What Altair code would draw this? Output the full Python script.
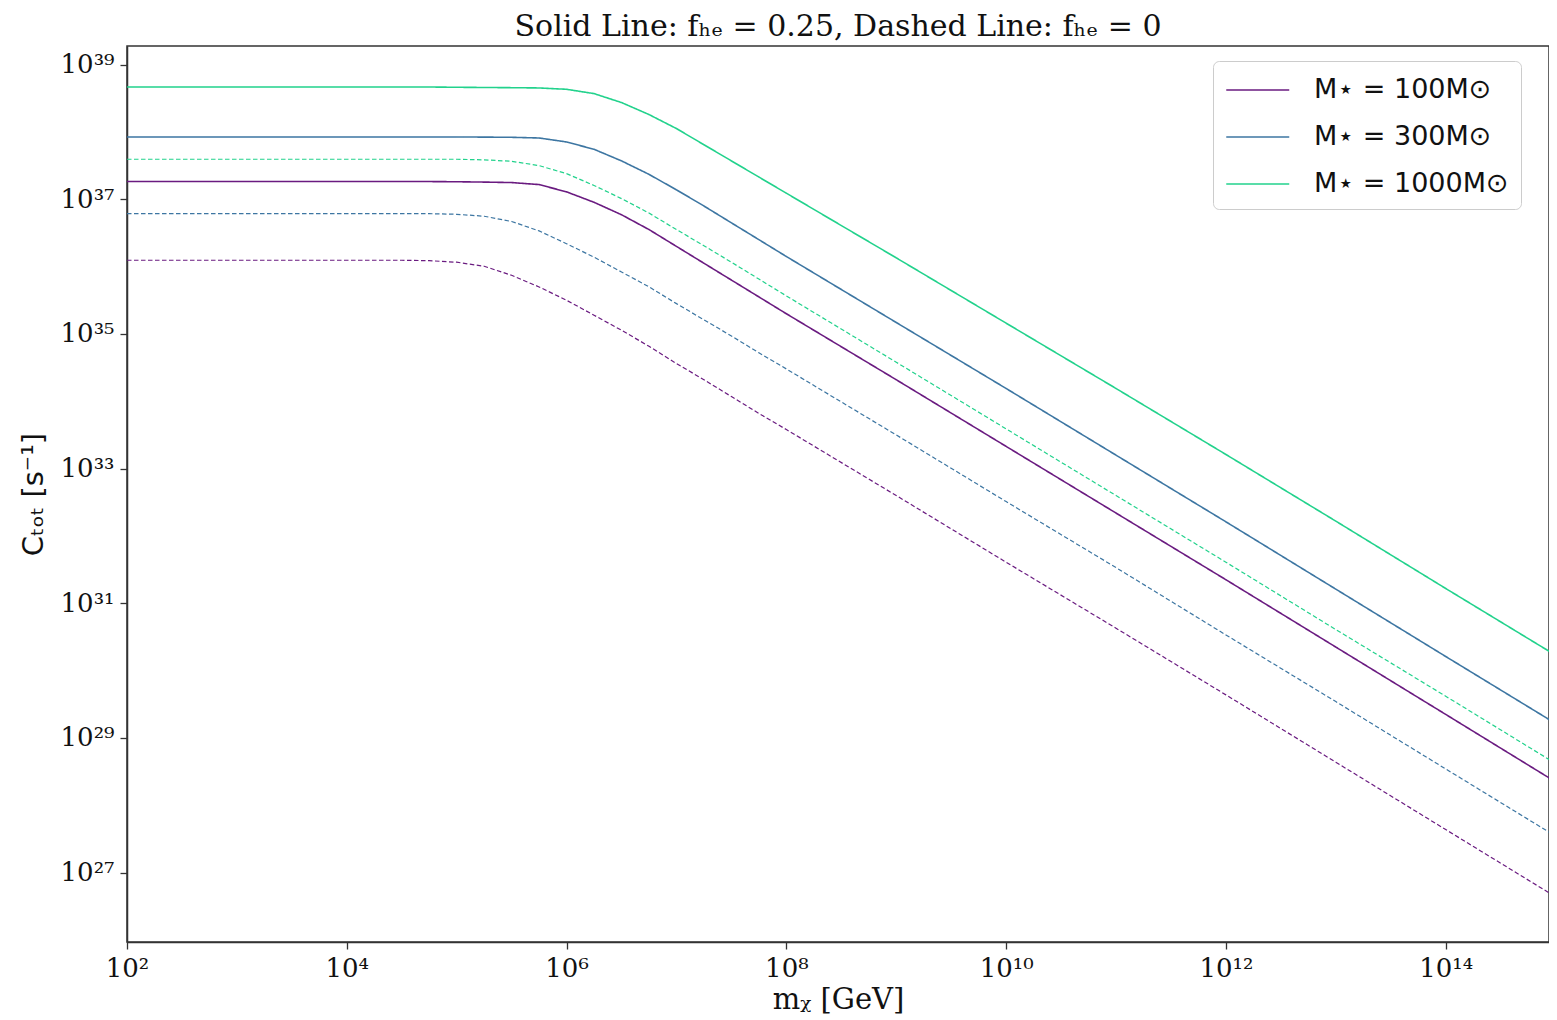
import altair as alt
import pandas as pd

# log10 of dark-matter mass m_X [GeV] at which curves were read
LOG_M = [2, 3, 4, 4.5, 4.75, 5, 5.25, 5.5, 5.75, 6, 6.25, 6.5, 6.75, 7, 7.25, 7.5, 7.75,
         8, 9, 10, 11, 12, 13, 14, 15]

# log10 of C_tot [s^-1]
S100 = [37.263, 37.263, 37.263, 37.263, 37.263, 37.260, 37.255, 37.248, 37.218, 37.11,
        36.955, 36.77, 36.55, 36.30, 36.05, 35.80, 35.55, 35.30, 34.32, 33.33, 32.34,
        31.35, 30.35, 29.35, 28.348]
S300 = [37.925, 37.925, 37.925, 37.925, 37.925, 37.925, 37.923, 37.920, 37.910, 37.851,
        37.742, 37.57, 37.37, 37.14, 36.90, 36.65, 36.40, 36.15, 35.17, 34.19, 33.20,
        32.21, 31.21, 30.21, 29.215]
S1000 = [38.667, 38.667, 38.667, 38.667, 38.667, 38.663, 38.660, 38.657, 38.653, 38.633,
         38.569, 38.436, 38.258, 38.050, 37.81, 37.57, 37.33, 37.09, 36.13, 35.16, 34.19,
         33.21, 32.22, 31.22, 30.229]
D100 = [36.094, 36.094, 36.094, 36.094, 36.088, 36.065, 36.005, 35.871, 35.698, 35.500,
        35.278, 35.055, 34.817, 34.560, 34.32, 34.07, 33.82, 33.58, 32.60, 31.61, 30.63,
        29.64, 28.64, 27.64, 26.641]
D300 = [36.788, 36.788, 36.788, 36.788, 36.786, 36.777, 36.748, 36.67, 36.53, 36.34,
        36.14, 35.92, 35.70, 35.45, 35.21, 34.97, 34.72, 34.48, 33.50, 32.51, 31.53,
        30.53, 29.54, 28.54, 27.542]
D1000 = [37.594, 37.594, 37.594, 37.594, 37.594, 37.594, 37.585, 37.564, 37.50, 37.38,
         37.205, 37.010, 36.795, 36.55, 36.31, 36.065, 35.815, 35.565, 34.58, 33.59,
         32.60, 31.61, 30.61, 29.62, 28.621]

MASS_LABELS = ["M⋆ = 100M⊙", "M⋆ = 300M⊙", "M⋆ = 1000M⊙"]
COLORS = ["#6a1b80", "#3d76a2", "#22d28c"]
FHE = ["0.25", "0"]

X_TICKS = [2, 4, 6, 8, 10, 12, 14]
Y_TICKS = [27, 29, 31, 33, 35, 37, 39]

series = [
    (MASS_LABELS[0], "0.25", S100), (MASS_LABELS[1], "0.25", S300), (MASS_LABELS[2], "0.25", S1000),
    (MASS_LABELS[0], "0", D100), (MASS_LABELS[1], "0", D300), (MASS_LABELS[2], "0", D1000),
]
rows = []
for mass, fhe, vals in series:
    for i, (lm, lc) in enumerate(zip(LOG_M, vals)):
        rows.append({"mass": mass, "fHe": fhe, "m": 10.0 ** lm, "C": 10.0 ** lc, "i": i})
df = pd.DataFrame(rows)

SUP = str.maketrans("0123456789-", "⁰¹²³⁴⁵⁶⁷⁸⁹⁻")


def label_expr(exps):
    expr = "''"
    for e in reversed(exps):
        expr = f"(abs(log(datum.value)/LN10 - {e}) < 0.01) ? '10{str(e).translate(SUP)}' : " + expr
    return expr


serif = "DejaVu Serif"
sans = "DejaVu Sans"

axis_common = dict(grid=False, tickSize=7, tickWidth=1.3, tickColor="#333",
                   domainColor="#333", domainWidth=1.5, labelColor="#111",
                   titleColor="#111", titleFontWeight="normal", labelFont=serif,
                   labelFontSize=26, labelPadding=6)

chart = alt.Chart(df).mark_line(clip=True).encode(
    x=alt.X("m:Q",
            scale=alt.Scale(type="log", domain=[1e2, 10 ** 14.94], nice=False),
            axis=alt.Axis(values=[10.0 ** e for e in X_TICKS], labelExpr=label_expr(X_TICKS),
                          title="mᵪ [GeV]", titleFont=serif, titleFontSize=29,
                          titlePadding=4, labelFlush=False, **axis_common)),
    y=alt.Y("C:Q",
            scale=alt.Scale(type="log", domain=[10 ** 25.97, 10 ** 39.276], nice=False),
            axis=alt.Axis(values=[10.0 ** e for e in Y_TICKS], labelExpr=label_expr(Y_TICKS),
                          title="Cₜₒₜ [s⁻¹]", titleFont=sans, titleFontSize=29,
                          titlePadding=12, labelFlush=False, **axis_common)),
    color=alt.Color("mass:N", scale=alt.Scale(domain=MASS_LABELS, range=COLORS),
                    sort=MASS_LABELS,
                    legend=alt.Legend(title=None, orient="none", legendX=1086, legendY=15,
                                      symbolType="M-1,0H3", symbolSize=992,
                                      symbolStrokeWidth=1.6, labelOffset=55,
                                      labelFont=sans, labelFontSize=27, labelColor="#111",
                                      labelLimit=600, rowPadding=17, padding=12,
                                      strokeColor="#cccccc", fillColor="white",
                                      cornerRadius=6)),
    strokeDash=alt.StrokeDash("fHe:N", scale=alt.Scale(domain=FHE, range=[[1, 0], [4.5, 2.5]]),
                              legend=None),
    strokeWidth=alt.StrokeWidth("fHe:N", scale=alt.Scale(domain=FHE, range=[1.6, 1.2]),
                                legend=None),
    order="i:Q",
).properties(
    width=1422, height=896,
    autosize=alt.AutoSizeParams(type="none"),
    padding={"left": 119, "top": 38, "right": 0, "bottom": 78},
    title=alt.TitleParams("Solid Line: fₕₑ = 0.25, Dashed Line: fₕₑ = 0",
                          font=serif, fontSize=30, fontWeight="normal", color="#111",
                          anchor="middle", offset=4),
).configure_view(stroke="#333", strokeWidth=1.5)

chart.save("out.html", embed_options={"renderer": "svg", "actions": False})
